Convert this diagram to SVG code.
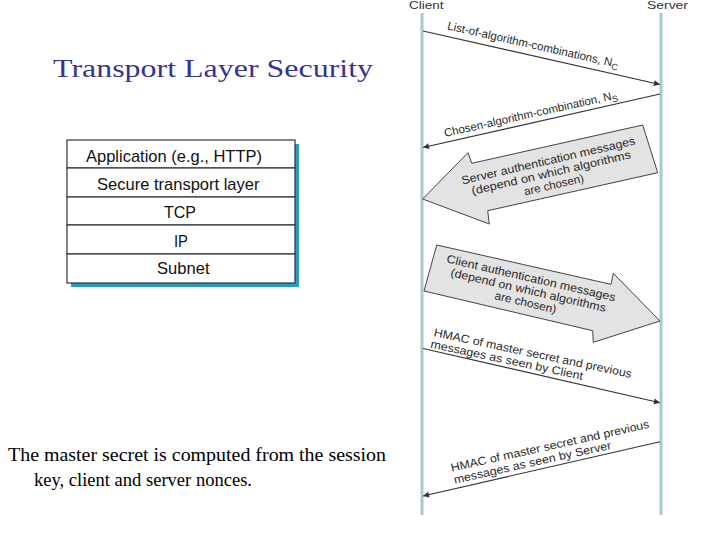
<svg xmlns="http://www.w3.org/2000/svg" width="720" height="540" viewBox="0 0 720 540">
<defs>
<marker id="ah" viewBox="0 0 10 10" refX="10" refY="5" markerWidth="9" markerHeight="6" markerUnits="userSpaceOnUse" orient="auto">
<path d="M0,0 L10,5 L0,10 Z" fill="#333"/>
</marker>
</defs>
<style>
.serif{font-family:"Liberation Serif","Times New Roman",serif}
.sans{font-family:"Liberation Sans",Arial,sans-serif}
.lbl{font-family:"Liberation Sans",Arial,sans-serif;font-size:11.5px;fill:#2a2a2a}
.stk{font-family:"Liberation Sans",Arial,sans-serif;font-size:17px;fill:#111}
.life{stroke:#a6cacd;stroke-width:3;fill:none}
.msg{stroke:#333;stroke-width:1.1;fill:none}
.big{fill:#e3e3e3;stroke:#444;stroke-width:1}
.cell{fill:#fff;stroke:#333;stroke-width:1.2}
</style>
<rect width="720" height="540" fill="#fff"/>

<g id="title">
<text class="serif" x="53" y="77" font-size="26" fill="#333399" textLength="320" lengthAdjust="spacingAndGlyphs">Transport Layer Security</text>
</g>

<g id="stack">
<rect x="71" y="144" width="228" height="143" fill="#2a9ac0"/>
<rect class="cell" x="67" y="140" width="228" height="28"/>
<rect class="cell" x="67" y="168" width="228" height="29"/>
<rect class="cell" x="67" y="197" width="228" height="28"/>
<rect class="cell" x="67" y="225" width="228" height="29"/>
<rect class="cell" x="67" y="254" width="228" height="29"/>
<text class="stk" x="86" y="161.5" textLength="176" lengthAdjust="spacingAndGlyphs">Application (e.g., HTTP)</text>
<text class="stk" x="97" y="189.5" textLength="162.5" lengthAdjust="spacingAndGlyphs">Secure transport layer</text>
<text class="stk" x="164" y="217.5" textLength="32" lengthAdjust="spacingAndGlyphs">TCP</text>
<text class="stk" x="174" y="246.5" textLength="14" lengthAdjust="spacingAndGlyphs">IP</text>
<text class="stk" x="157" y="274" textLength="52.5" lengthAdjust="spacingAndGlyphs">Subnet</text>
</g>

<g id="note">
<text class="serif" x="8" y="461" font-size="18.5" fill="#000" textLength="378" lengthAdjust="spacingAndGlyphs">The master secret is computed from the session</text>
<text class="serif" x="34" y="486" font-size="18.5" fill="#000" textLength="218" lengthAdjust="spacingAndGlyphs">key, client and server nonces.</text>
</g>

<g id="client">
<line class="life" x1="422" y1="13" x2="422" y2="515"/>
<text class="sans" x="409" y="9" font-size="10" fill="#333" textLength="34.5" lengthAdjust="spacingAndGlyphs">Client</text>
</g>
<g id="server">
<line class="life" x1="661" y1="13" x2="661" y2="515"/>
<text class="sans" x="647" y="9" font-size="10" fill="#333" textLength="41" lengthAdjust="spacingAndGlyphs">Server</text>
</g>

<g id="server-auth">
<polygon class="big" points="422.7,199 468,152.7 471.7,163.3 642.7,125 657.7,172.7 487.7,210.7 489.3,224"/>
<g transform="translate(552,176.5) rotate(-13)">
<text class="lbl" x="0" y="-12.4" text-anchor="middle" textLength="178" lengthAdjust="spacingAndGlyphs">Server authentication messages</text>
<text class="lbl" x="0" y="0" text-anchor="middle" textLength="163" lengthAdjust="spacingAndGlyphs">(depend on which algorithms</text>
<text class="lbl" x="0" y="12.4" text-anchor="middle" textLength="61" lengthAdjust="spacingAndGlyphs">are chosen)</text>
</g>
</g>

<g id="client-auth">
<polygon class="big" points="436.7,245 611,284.3 613.3,273.3 660,321 593.3,342.3 592.7,330.7 424,291"/>
<g transform="translate(527.5,294) rotate(13)">
<text class="lbl" x="0" y="-12.5" text-anchor="middle" textLength="173" lengthAdjust="spacingAndGlyphs">Client authentication messages</text>
<text class="lbl" x="0" y="0" text-anchor="middle" textLength="159" lengthAdjust="spacingAndGlyphs">(depend on which algorithms</text>
<text class="lbl" x="0" y="12.5" text-anchor="middle" textLength="63" lengthAdjust="spacingAndGlyphs">are chosen)</text>
</g>
</g>

<g id="connectors">
<line class="msg" x1="423" y1="31" x2="660" y2="84.5" marker-end="url(#ah)"/>
<line class="msg" x1="660" y1="94" x2="423" y2="147.5" marker-end="url(#ah)"/>
<line class="msg" x1="423" y1="348.5" x2="660" y2="402.7" marker-end="url(#ah)"/>
<line class="msg" x1="660" y1="441.7" x2="423" y2="496" marker-end="url(#ah)"/>
</g>

<g id="labels">
<text class="lbl" font-size="12.3" transform="translate(446.7,29.3) rotate(12.7)">List-of-algorithm-combinations, N<tspan font-size="9" dy="3">C</tspan></text>
<text class="lbl" font-size="12.3" transform="translate(445,137) rotate(-12.6)">Chosen-algorithm-combination, N<tspan font-size="9" dy="3">S</tspan></text>
<g transform="translate(433.3,336) rotate(12)">
<text class="lbl" x="0" y="0" textLength="202" lengthAdjust="spacingAndGlyphs">HMAC of master secret and previous</text>
<text class="lbl" x="-0.8" y="12" textLength="155.5" lengthAdjust="spacingAndGlyphs">messages as seen by Client</text>
</g>
<g transform="translate(451.7,471.7) rotate(-12.5)">
<text class="lbl" x="0" y="0" textLength="203" lengthAdjust="spacingAndGlyphs">HMAC of master secret and previous</text>
<text class="lbl" x="0.3" y="12.3" textLength="161" lengthAdjust="spacingAndGlyphs">messages as seen by Server</text>
</g>
</g>
</svg>
